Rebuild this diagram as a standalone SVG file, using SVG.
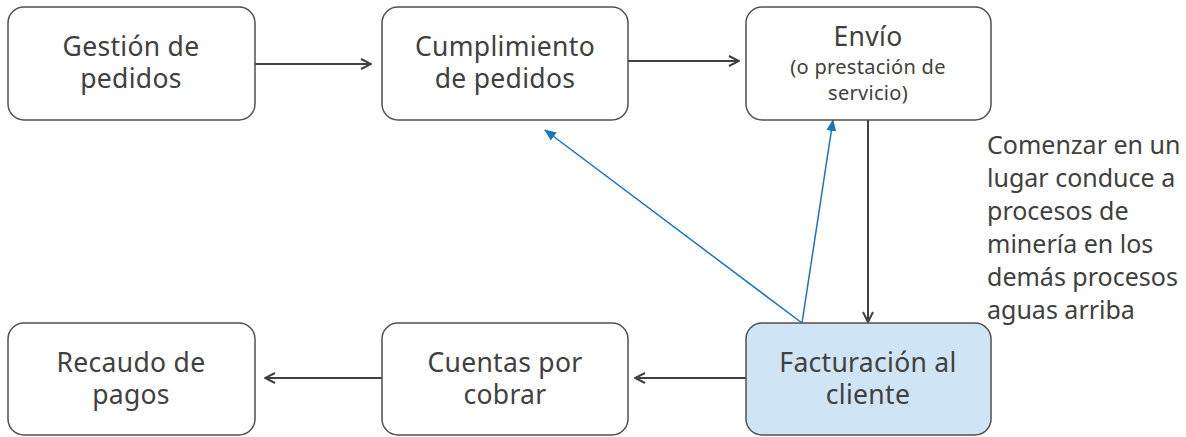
<svg xmlns="http://www.w3.org/2000/svg" width="1186" height="437" viewBox="0 0 1186 437">
<style>
.box{fill:#fff;stroke:#505050;stroke-width:1.5}
.hl{fill:#cfe4f5}
text{font-family:"Noto Sans","Open Sans",sans-serif;fill:#404040;text-anchor:middle}
.t{font-size:26.5px;letter-spacing:0.3px}
.s{font-size:20px;letter-spacing:0.3px}
.n{font-size:25px;text-anchor:start}
.c{stroke:#404040;stroke-width:2;fill:none}
.b{stroke:#1874c4;stroke-width:1.5;fill:none}
</style>
<defs>
<marker id="open" viewBox="0 0 12 12" refX="11" refY="6" markerWidth="12" markerHeight="12" markerUnits="userSpaceOnUse" orient="auto">
<path d="M1,1 L11,6 L1,11" fill="none" stroke="#404040" stroke-width="2"/>
</marker>
<marker id="tri" viewBox="0 0 12 12" refX="11" refY="6" markerWidth="12" markerHeight="12" markerUnits="userSpaceOnUse" orient="auto">
<path d="M0,1 L12,6 L0,11 Z" fill="#1874c4"/>
</marker>
</defs>
<g id="connectors">
<line class="c" x1="255" y1="64" x2="371" y2="64" marker-end="url(#open)"/>
<line class="c" x1="628" y1="61" x2="739" y2="61" marker-end="url(#open)"/>
<line class="c" x1="868" y1="120" x2="868" y2="322" marker-end="url(#open)"/>
<line class="c" x1="746" y1="378" x2="635" y2="378" marker-end="url(#open)"/>
<line class="c" x1="382" y1="378" x2="265" y2="378" marker-end="url(#open)"/>
<line class="b" x1="802" y1="323" x2="545" y2="130" marker-end="url(#tri)"/>
<line class="b" x1="802" y1="323" x2="833" y2="120" marker-end="url(#tri)"/>
</g>
<g id="gestion">
<rect class="box" x="8" y="7" width="247" height="113" rx="16"/>
<text class="t" x="131" y="56">Gestión de</text>
<text class="t" x="131" y="88">pedidos</text>
</g>
<g id="cumplimiento">
<rect class="box" x="382" y="7" width="246" height="113" rx="16"/>
<text class="t" x="505" y="56">Cumplimiento</text>
<text class="t" x="505" y="88">de pedidos</text>
</g>
<g id="envio">
<rect class="box" x="746" y="7" width="245" height="113" rx="16"/>
<text class="t" x="868" y="46">Envío</text>
<text class="s" x="868" y="74">(o prestación de</text>
<text class="s" x="868" y="100">servicio)</text>
</g>
<g id="facturacion">
<rect class="box hl" x="746" y="323" width="245" height="112" rx="16"/>
<text class="t" x="868" y="372">Facturación al</text>
<text class="t" x="868" y="404">cliente</text>
</g>
<g id="cuentas">
<rect class="box" x="382" y="323" width="246" height="112" rx="16"/>
<text class="t" x="505" y="372">Cuentas por</text>
<text class="t" x="505" y="404">cobrar</text>
</g>
<g id="recaudo">
<rect class="box" x="8" y="323" width="247" height="112" rx="16"/>
<text class="t" x="131" y="372">Recaudo de</text>
<text class="t" x="131" y="404">pagos</text>
</g>
<g id="note">
<text class="n" x="987" y="154">Comenzar en un</text>
<text class="n" x="987" y="187">lugar conduce a</text>
<text class="n" x="987" y="220">procesos de</text>
<text class="n" x="987" y="253">minería en los</text>
<text class="n" x="987" y="286">demás procesos</text>
<text class="n" x="987" y="319">aguas arriba</text>
</g>
</svg>
